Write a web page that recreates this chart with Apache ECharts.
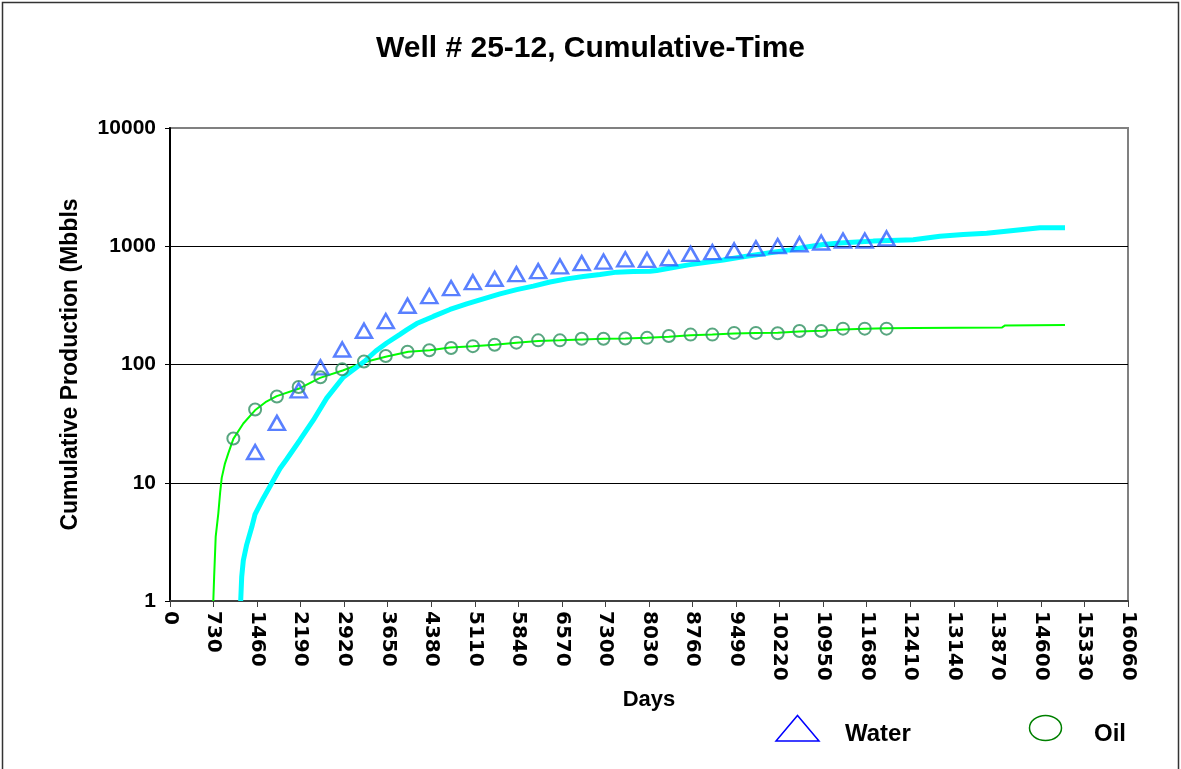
<!DOCTYPE html>
<html>
<head>
<meta charset="utf-8">
<script src="https://cdn.jsdelivr.net/npm/echarts@6/dist/echarts.min.js"></script>
<style>html,body{margin:0;padding:0;background:#fff}#chart{width:1181px;height:769px}</style>
</head>
<body>
<div id="chart"></div>
<script>
const chartTitle = 'Well # 25-12, Cumulative-Time';
const xAxisName = 'Days';
const yAxisName = 'Cumulative Production (Mbbls';
const xTickLabels = ['0','730','1460','2190','2920','3650','4380','5110','5840','6570','7300','8030','8760','9490','10220','10950','11680','12410','13140','13870','14600','15330','16060'];
const yTickLabels = ['1','10','100','1000','10000'];

// annual sample points (markers)
const oilPointDays = [1062,1427,1792,2157,2522,2887,3252,3617,3982,4347,4712,5077,5442,5807,6172,6537,6902,7267,7632,7997,8362,8727,9092,9457,9822,10187,10552,10917,11282,11647,12012];
const oilPointValues = [23.7,41.6,53.6,64.5,78,91,106,118,128,132,138,143,147,153,160,160,165,165,166,168,174,179,179,185,185,184,192,192,201,201,201];
const waterPointDays = [1427,1792,2157,2522,2887,3252,3617,3982,4347,4712,5077,5442,5807,6172,6537,6902,7267,7632,7997,8362,8727,9092,9457,9822,10187,10552,10917,11282,11647,12012];
const waterPointValues = [18.2,32.1,60.5,94.7,134,193,233,314,379,443,497,531,581,616,675,720,742,775,766,792,862,892,922,960,1005,1040,1075,1117,1117,1165];

// continuous production curves
const oilLineDays = [726,740,766,810,840,867,922,977,1062,1229,1425,1600,1789,2179,2515,2895,3269,3633,3995,4359,4694,5077,5442,5807,6172,6537,6902,7267,7632,7997,8362,8727,9092,9457,9822,10187,10552,10917,11282,11647,12012,12500,13950,14000,15004];
const oilLineValues = [1,1.6,3.5,5.5,8.2,11,14.6,17.7,23.5,31.7,41,48,54,63,77,89,105,117,128,132,139,143,147,153,158,160,163,165,166,168,172,177,179,183,185,186,190,193,198,201,203,204,206,214,216];
const waterLineDays = [1185,1202,1229,1286,1370,1425,1564,1705,1844,1956,2179,2402,2627,2905,3257,3450,3633,3856,3968,4136,4414,4694,4974,5252,5532,5812,6090,6370,6650,6929,7209,7488,7767,8047,8159,8437,8717,8997,9276,9555,9835,10114,10394,10673,10952,11232,11512,11790,12070,12461,12908,13299,13691,14137,14585,15004];
const waterLineValues = [1,1.6,2.2,3.0,4.2,5.4,7.4,9.9,13.2,15.8,23,33.8,52,78,106,130,152,180,196,222,255,292,326,359,395,430,460,498,530,555,577,604,612,614,624,662,699,733,765,808,849,890,932,984,1035,1063,1085,1105,1120,1133,1215,1256,1290,1360,1433,1433];

const legendNames = ['Water','Oil'];

const FONT = 'Arial, "Liberation Sans", sans-serif';
const zip = (a, b) => a.map((d, i) => [d, b[i]]);

const chart = echarts.init(document.getElementById('chart'), null, {renderer: 'canvas'});
const option = {
  animation: false,
  backgroundColor: '#ffffff',
  title: {
    text: chartTitle, left: 'center', top: 29,
    textStyle: {fontFamily: FONT, fontSize: 30, fontWeight: 'bold', color: '#000'}
  },
  grid: {left: 170, right: 53, top: 128, bottom: 168, show: true, borderColor: '#808080', borderWidth: 2, backgroundColor: 'transparent'},
  xAxis: {
    type: 'value', min: 0, max: 16060, interval: 730,
    name: xAxisName, nameLocation: 'middle', nameGap: 86,
    nameTextStyle: {fontFamily: FONT, fontSize: 22, fontWeight: 'bold', color: '#000'},
    axisLine: {show: true, onZero: false, lineStyle: {color: '#404040', width: 2}},
    axisTick: {show: true, length: 6, lineStyle: {color: '#404040', width: 1}},
    axisLabel: {
      rotate: -90, margin: 10, fontFamily: '"DejaVu Sans", sans-serif', fontSize: 20, fontWeight: 'bold', color: '#000',
      formatter: v => xTickLabels[Math.round(v / 730)]
    },
    splitLine: {show: false}
  },
  yAxis: {
    type: 'log', logBase: 10, min: 1, max: 10000,
    name: yAxisName, nameLocation: 'middle', nameGap: 88, nameRotate: 90,
    nameTextStyle: {fontFamily: FONT, fontSize: 23, fontWeight: 'bold', color: '#000'},
    axisLine: {show: true, lineStyle: {color: '#000', width: 2}},
    axisTick: {show: true, length: 5, lineStyle: {color: '#000', width: 1}},
    axisLabel: {
      margin: 14, fontFamily: FONT, fontSize: 21, fontWeight: 'bold', color: '#000',
      formatter: v => yTickLabels[Math.round(Math.log10(v))]
    },
    splitLine: {show: true, lineStyle: {color: ['#000', '#000', '#000', '#000', '#808080'], width: 1}},
    minorTick: {show: false}
  },
  series: [
    {
      name: 'Oil cumulative', type: 'line', data: zip(oilLineDays, oilLineValues),
      showSymbol: false, symbol: 'none', lineStyle: {color: '#00ff00', width: 2}, z: 2, silent: true
    },
    {
      name: 'Water cumulative', type: 'line', data: zip(waterLineDays, waterLineValues),
      showSymbol: false, symbol: 'none', lineStyle: {color: '#00ffff', width: 5}, z: 3, silent: true
    },
    {
      name: legendNames[0], type: 'scatter', data: zip(waterPointDays, waterPointValues),
      symbol: 'triangle', symbolSize: [16, 14],
      itemStyle: {color: 'rgba(255,255,255,0)', borderColor: '#3060ff', borderWidth: 2.5}, z: 4
    },
    {
      name: legendNames[1], type: 'scatter', data: zip(oilPointDays, oilPointValues),
      symbol: 'circle', symbolSize: 12,
      itemStyle: {color: 'rgba(255,255,255,0)', borderColor: '#2e9060', borderWidth: 2}, z: 5
    }
  ],
  graphic: [
    {type: 'rect', silent: true, z: -10, shape: {x: 2.5, y: 2.5, width: 1176, height: 800}, style: {fill: null, stroke: '#333', lineWidth: 1.5}},
    {type: 'polygon', silent: true, shape: {points: [[776, 741], [819, 741], [797.5, 715.5]]}, style: {fill: null, stroke: '#0000ff', lineWidth: 1.5}},
    {type: 'text', silent: true, left: 845, top: 722, style: {text: legendNames[0], font: 'bold 24px ' + FONT, fill: '#000'}},
    {type: 'ellipse', silent: true, shape: {cx: 1045.5, cy: 728, rx: 16, ry: 12.5}, style: {fill: null, stroke: '#008000', lineWidth: 1.5}},
    {type: 'text', silent: true, left: 1094, top: 722, style: {text: legendNames[1], font: 'bold 24px ' + FONT, fill: '#000'}}
  ]
};
chart.setOption(option);
</script>
</body>
</html>
